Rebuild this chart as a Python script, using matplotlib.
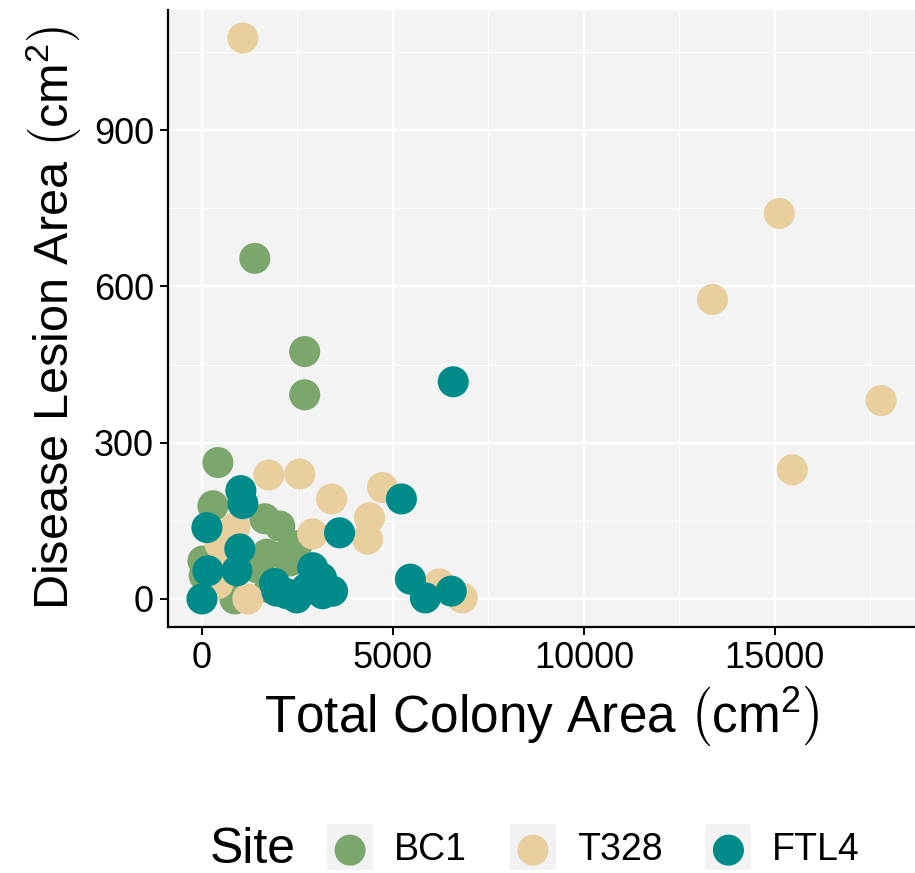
"""
Scatter of disease lesion area against total colony area, coloured by site.
"""
import matplotlib
matplotlib.use('Agg')
import matplotlib.pyplot as plt
from matplotlib.patches import Rectangle
from matplotlib.ticker import MultipleLocator

plt.rcParams['font.family'] = ['Liberation Sans', 'DejaVu Sans']
plt.rcParams['mathtext.fontset'] = 'custom'
plt.rcParams['mathtext.rm'] = 'Liberation Sans'
plt.rcParams['mathtext.it'] = 'Liberation Sans:italic'

# site names and colours
sites = ['BC1', 'T328', 'FTL4']
colours = ['#7BA66C', '#E8CF9D', '#008B8B']

# BC1 (colony area, lesion area)
bc1_colony = [1384, 2690, 2690, 418, 287, 1645, 2037, 2480, 1697, 2220,
              2298, 26, 60, 862, 1775, 1436]
bc1_lesion = [654, 475, 392, 262, 179, 154, 140, 102, 86, 86,
              73, 73, 45, 0, 21, 60]

# T328
t328_colony = [1070, 15117, 13368, 17780, 15457, 1750, 2560, 3395, 4726, 4386,
               4334, 2898, 862, 470, 418, 1201, 6214, 6815, 600]
t328_lesion = [1077, 740, 575, 381, 248, 238, 240, 192, 214, 156,
               115, 125, 137, 106, 29, 0, 29, 2, 70]

# FTL4
ftl4_colony = [6580, 5222, 5457, 5849, 6527, 1018, 1070, 3603, 130, 992,
               157, 914, 0, 1958, 2220, 2898, 2741, 3159, 3420, 3133, 2480, 1900]
ftl4_lesion = [417, 192, 38, 2, 15, 208, 183, 127, 137, 96,
               54, 54, 0, 15, 10, 60, 21, 10, 15, 40, 2, 30]

colony = [bc1_colony, t328_colony, ftl4_colony]
lesion = [bc1_lesion, t328_lesion, ftl4_lesion]

fig = plt.figure(figsize=(9.15, 8.73), dpi=100, facecolor='white')
ax = fig.add_axes([168 / 915, 1 - 627 / 873, 1 - 168 / 915, (627 - 10) / 873])
ax.set_facecolor('#F3F3F3')

handles = []
for xs, ys, c, name in zip(colony, lesion, colours, sites):
    h = ax.scatter(xs, ys, s=500, color=c, edgecolors='none', label=name, zorder=3)
    handles.append(h)

# limits with ggplot-style 5% expansion
xmax = max(max(v) for v in colony)
ymax = max(max(v) for v in lesion)
ax.set_xlim(-0.05 * xmax, 1.05 * xmax)
ax.set_ylim(-0.05 * ymax, 1.05 * ymax)

ax.xaxis.set_major_locator(MultipleLocator(5000))
ax.xaxis.set_minor_locator(MultipleLocator(2500))
ax.yaxis.set_major_locator(MultipleLocator(300))
ax.yaxis.set_minor_locator(MultipleLocator(150))
ax.grid(which='major', color='white', linewidth=1.6, zorder=0)
ax.grid(which='minor', color='white', linewidth=0.8, zorder=0)
ax.set_axisbelow(True)

for side in ['top', 'right']:
    ax.spines[side].set_visible(False)
for side in ['left', 'bottom']:
    ax.spines[side].set_linewidth(1.6)
    ax.spines[side].set_color('black')
ax.tick_params(which='major', length=6, width=1.4, color='black',
               labelsize=26, labelcolor='black', pad=4)
ax.tick_params(which='minor', length=0)

ax.set_xlabel(r'Total Colony Area $\left(\mathrm{cm}^{2}_{\,}\right)$', fontsize=37, labelpad=6)
ax.set_ylabel(r'Disease Lesion Area $\left(\mathrm{cm}^{2}_{\,}\right)$', fontsize=35, labelpad=8)

# legend along the bottom
fig.text(210 / 915, 1 - 850 / 873, 'Site', fontsize=36, va='center', ha='left')
leg = fig.legend(handles=handles, labels=sites, loc='center left',
                 bbox_to_anchor=(327 / 915, 1 - 850 / 873), ncol=3, frameon=False,
                 fontsize=27, handlelength=1.23, handletextpad=0.55,
                 columnspacing=1.15, borderaxespad=0, borderpad=0)

# grey key backgrounds as in ggplot
fig.canvas.draw()
renderer = fig.canvas.get_renderer()
for col in leg._legend_handle_box.get_children():
    for row in col.get_children():
        da = row.get_children()[0]
        bb = da.get_window_extent(renderer)
        cx = (bb.x0 + bb.x1) / 2
        cy = (bb.y0 + bb.y1) / 2
        size = 46
        fig.patches.append(Rectangle(((cx - size / 2) / 915, (cy - size / 2) / 873),
                                     size / 915, size / 873, transform=fig.transFigure,
                                     facecolor='#F2F2F2', edgecolor='none', zorder=0))

fig.savefig('out.png', dpi=100, facecolor='white')
plt.close(fig)
